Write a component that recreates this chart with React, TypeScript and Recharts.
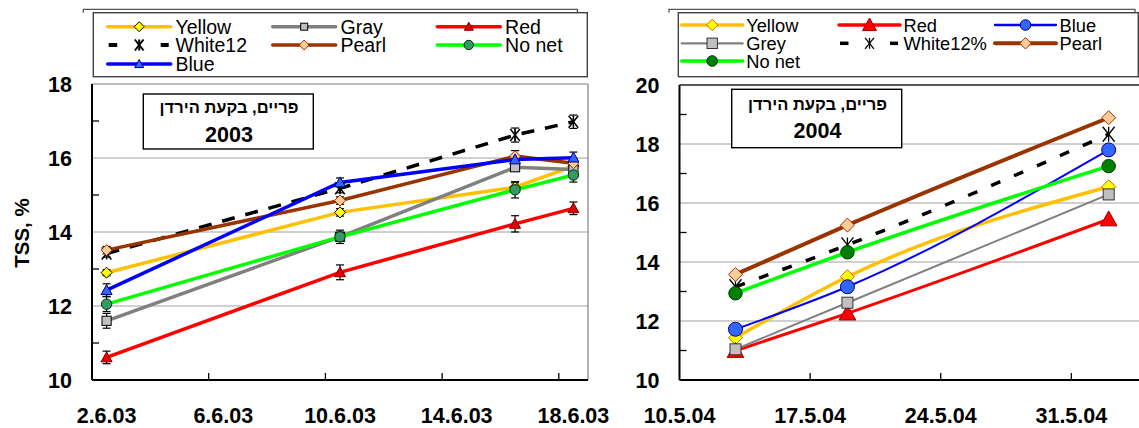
import React from 'react';
import { LineChart, Line, XAxis, YAxis, CartesianGrid, ReferenceLine, ErrorBar } from 'recharts';

const FONT = '"Liberation Sans", Arial, Helvetica, sans-serif';

// ---------------- 2003 (left panel) ----------------
const days2003 = [0, 8, 14, 16]; // days after 2.6.03
const xLabels2003 = ['2.6.03', '6.6.03', '10.6.03', '14.6.03', '18.6.03'];
const xLabelDays2003 = [0, 4, 8, 12, 16];
const yTicks2003 = [10, 11, 12, 13, 14, 15, 16, 17, 18];
const grid2003 = [12, 14, 16];

const yellow2003 = [12.9, 14.53, 15.21, 15.78];
const gray2003 = [11.6, 13.87, 15.75, 15.69];
const red2003 = [10.61, 12.91, 14.22, 14.64];
const white2003 = [13.42, 15.18, 16.62, 16.98];
const pearl2003 = [13.51, 14.85, 16.05, 15.86];
const nonet2003 = [12.05, 13.87, 15.14, 15.54];
const blue2003 = [12.43, 15.34, 15.96, 16.01];

const yellowErr2003 = [0.08, 0.1, 0.12, 0.1];
const grayErr2003 = [0.2, 0.12, 0.1, 0.08];
const redErr2003 = [0.17, 0.2, 0.22, 0.17];
const whiteErr2003 = [0.1, 0.12, 0.19, 0.18];
const pearlErr2003 = [0.1, 0.1, 0.15, 0.12];
const nonetErr2003 = [0.2, 0.18, 0.22, 0.19];
const blueErr2003 = [0.17, 0.12, 0.12, 0.15];

// ---------------- 2004 (right panel) ----------------
const days2004 = [3, 9, 23]; // days after 10.5.04
const xLabels2004 = ['10.5.04', '17.5.04', '24.5.04', '31.5.04'];
const xLabelDays2004 = [0, 7, 14, 21];
const yTicks2004 = [10, 11, 12, 13, 14, 15, 16, 17, 18, 19, 20];
const grid2004 = [12, 14, 16, 18];

const yellow2004 = [11.43, 13.5, 16.55];
const red2004 = [10.99, 12.26, 15.45];
const blue2004 = [11.72, 13.16, 17.8];
const grey2004 = [11.04, 12.62, 16.29];
const white2004 = [13.16, 14.58, 18.33];
const pearl2004 = [13.58, 15.25, 18.89];
const nonet2004 = [12.94, 14.33, 17.25];

const data2003 = days2003.map((d, i) => ({
  day: d,
  yellow: yellow2003[i], yellowErr: yellowErr2003[i],
  gray: gray2003[i], grayErr: grayErr2003[i],
  red: red2003[i], redErr: redErr2003[i],
  white: white2003[i], whiteErr: whiteErr2003[i],
  pearl: pearl2003[i], pearlErr: pearlErr2003[i],
  nonet: nonet2003[i], nonetErr: nonetErr2003[i],
  blue: blue2003[i], blueErr: blueErr2003[i],
}));

const data2004 = days2004.map((d, i) => ({
  day: d,
  yellow: yellow2004[i],
  red: red2004[i],
  blue: blue2004[i],
  grey: grey2004[i],
  white: white2004[i],
  pearl: pearl2004[i],
  nonet: nonet2004[i],
}));

type MarkerSpec = { kind: string; r: number; fill?: string; stroke: string; sw?: number };
type SeriesSpec = { key: string; name: string; stroke: string; width: number; dash?: string; marker: MarkerSpec; legendMarker: MarkerSpec; legendWidth: number };

const series2003: SeriesSpec[] = [
  { key: 'yellow', name: 'Yellow', stroke: '#FFC000', width: 3.5, marker: { kind: 'diamond', r: 5.5, fill: '#FFFF00', stroke: '#000' }, legendMarker: { kind: 'diamond', r: 5, fill: '#FFFF00', stroke: '#000' }, legendWidth: 3.5 },
  { key: 'gray', name: 'Gray', stroke: '#808080', width: 3.5, marker: { kind: 'square', r: 4.6, fill: '#C0C0C0', stroke: '#000' }, legendMarker: { kind: 'square', r: 3.5, fill: '#C0C0C0', stroke: '#000' }, legendWidth: 3.5 },
  { key: 'red', name: 'Red', stroke: '#FF0000', width: 3.5, marker: { kind: 'triangle', r: 5.5, fill: '#E00000', stroke: '#800000' }, legendMarker: { kind: 'triangle', r: 4.5, fill: '#E00000', stroke: '#800000' }, legendWidth: 3.5 },
  { key: 'white', name: 'White12', stroke: '#000000', width: 3.5, dash: '13 11', marker: { kind: 'star', r: 6, stroke: '#000', sw: 1.5 }, legendMarker: { kind: 'star', r: 5.5, stroke: '#000', sw: 2 }, legendWidth: 4 },
  { key: 'pearl', name: 'Pearl', stroke: '#993300', width: 3.5, marker: { kind: 'diamond', r: 5.5, fill: '#FFCC99', stroke: '#993300' }, legendMarker: { kind: 'diamond', r: 5, fill: '#FFCC99', stroke: '#993300' }, legendWidth: 3.5 },
  { key: 'nonet', name: 'No net', stroke: '#00FF00', width: 3.5, marker: { kind: 'circle', r: 5.2, fill: '#339966', stroke: '#003300' }, legendMarker: { kind: 'circle', r: 4.7, fill: '#339966', stroke: '#003300' }, legendWidth: 3.5 },
  { key: 'blue', name: 'Blue', stroke: '#0000FF', width: 3.5, marker: { kind: 'triangle', r: 5.5, fill: '#3366FF', stroke: '#000080' }, legendMarker: { kind: 'triangle', r: 4.5, fill: '#3366FF', stroke: '#000080' }, legendWidth: 3.5 },
];

const series2004: SeriesSpec[] = [
  { key: 'yellow', name: 'Yellow', stroke: '#FFC000', width: 3.5, marker: { kind: 'diamond', r: 7, fill: '#FFFF00', stroke: '#CC6600' }, legendMarker: { kind: 'diamond', r: 5.7, fill: '#FFFF00', stroke: '#CC6600' }, legendWidth: 3.5 },
  { key: 'red', name: 'Red', stroke: '#FF0000', width: 3, marker: { kind: 'triangle', r: 8.3, fill: '#FF0000', stroke: '#990000' }, legendMarker: { kind: 'triangle', r: 7, fill: '#FF0000', stroke: '#990000' }, legendWidth: 3.5 },
  { key: 'blue', name: 'Blue', stroke: '#0000FF', width: 2, marker: { kind: 'circle', r: 7, fill: '#3366FF', stroke: '#000080' }, legendMarker: { kind: 'circle', r: 5.3, fill: '#3366FF', stroke: '#000080' }, legendWidth: 2.3 },
  { key: 'grey', name: 'Grey', stroke: '#808080', width: 2, marker: { kind: 'square', r: 5.5, fill: '#C0C0C0', stroke: '#333' }, legendMarker: { kind: 'square', r: 5.2, fill: '#C0C0C0', stroke: '#333' }, legendWidth: 2.3 },
  { key: 'white', name: 'White12%', stroke: '#000000', width: 3.5, dash: '10 15', marker: { kind: 'star', r: 7.5, stroke: '#000', sw: 1.3 }, legendMarker: { kind: 'star', r: 5.5, stroke: '#000', sw: 1.3 }, legendWidth: 3.5 },
  { key: 'pearl', name: 'Pearl', stroke: '#993300', width: 4, marker: { kind: 'diamond', r: 7, fill: '#FFCC99', stroke: '#993300' }, legendMarker: { kind: 'diamond', r: 5.7, fill: '#FFCC99', stroke: '#993300' }, legendWidth: 4 },
  { key: 'nonet', name: 'No net', stroke: '#00FF00', width: 3.5, marker: { kind: 'circle', r: 6.7, fill: '#008000', stroke: '#003300' }, legendMarker: { kind: 'circle', r: 5.3, fill: '#008000', stroke: '#003300' }, legendWidth: 3.5 },
];

function Marker({ kind, cx, cy, r, fill, stroke, sw = 1 }: any) {
  switch (kind) {
    case 'diamond':
      return <polygon points={`${cx},${cy - r} ${cx + r},${cy} ${cx},${cy + r} ${cx - r},${cy}`} fill={fill} stroke={stroke} strokeWidth={sw} />;
    case 'square':
      return <rect x={cx - r} y={cy - r} width={2 * r} height={2 * r} fill={fill} stroke={stroke} strokeWidth={sw} />;
    case 'triangle':
      return <polygon points={`${cx},${cy - r} ${cx + r},${cy + r * 0.8} ${cx - r},${cy + r * 0.8}`} fill={fill} stroke={stroke} strokeWidth={sw} />;
    case 'circle':
      return <circle cx={cx} cy={cy} r={r} fill={fill} stroke={stroke} strokeWidth={sw} />;
    case 'star':
      return (
        <g stroke={stroke} strokeWidth={sw} fill="none">
          <line x1={cx - r * 0.8} y1={cy - r} x2={cx + r * 0.8} y2={cy + r} />
          <line x1={cx - r * 0.8} y1={cy + r} x2={cx + r * 0.8} y2={cy - r} />
          <line x1={cx} y1={cy - r} x2={cx} y2={cy + r} />
        </g>
      );
    default:
      return null;
  }
}

const dotFn = (m: MarkerSpec) => (p: any) => {
  if (p.cx == null || p.cy == null || p.value == null) return <g key={'e' + p.index} />;
  return (
    <g key={'d' + p.index}>
      <Marker kind={m.kind} cx={p.cx} cy={p.cy} r={m.r} fill={m.fill} stroke={m.stroke} sw={m.sw ?? 1} />
    </g>
  );
};

const makeXTick = (labelDays: number[], labels: string[], markDays: number[]) => (p: any) => {
  const v = p.payload.value;
  const li = labelDays.indexOf(v);
  const isMark = markDays.indexOf(v) >= 0;
  return (
    <g>
      {isMark && <line x1={p.x} y1={p.y} x2={p.x} y2={p.y - 7} stroke="#000" strokeWidth={1.3} />}
      {li >= 0 && (
        <text x={p.x} y={p.y + 42.5} textAnchor="middle" fontFamily={FONT} fontWeight="bold" fontSize={21.5} fill="#000">
          {labels[li]}
        </text>
      )}
    </g>
  );
};

const yTick = (p: any) => {
  const v = p.payload.value;
  if (v % 2 === 0) {
    return (
      <text x={p.x - 20} y={p.y + 7.7} textAnchor="end" fontFamily={FONT} fontWeight="bold" fontSize={21.5} fill="#000">
        {v}
      </text>
    );
  }
  return <line x1={p.x} y1={p.y} x2={p.x + 7} y2={p.y} stroke="#000" strokeWidth={1.3} />;
};

const marks2003 = xLabelDays2003.slice(1).map((d) => d - 0.5);
const xTicks2003 = [...xLabelDays2003, ...marks2003].sort((a, b) => a - b);
const marks2004 = xLabelDays2004.slice(1);

function LegendBlock({ series, colX, rowY, lineLen, textOff, fontSize }: any) {
  return (
    <g>
      {series.map((s: SeriesSpec, i: number) => {
        const x0 = colX[i % 3];
        const y = rowY[Math.floor(i / 3)];
        const cx = x0 + lineLen / 2;
        return (
          <g key={s.key}>
            {s.dash ? (
              <g stroke={s.stroke} strokeWidth={s.legendWidth}>
                <line x1={x0 + 1} y1={y} x2={x0 + 9.5} y2={y} />
                <line x1={x0 + lineLen - 10} y1={y} x2={x0 + lineLen - 2} y2={y} />
              </g>
            ) : (
              <line x1={x0} y1={y} x2={x0 + lineLen} y2={y} stroke={s.stroke} strokeWidth={s.legendWidth} strokeLinecap="round" />
            )}
            <Marker kind={s.legendMarker.kind} cx={cx} cy={y} r={s.legendMarker.r} fill={s.legendMarker.fill} stroke={s.legendMarker.stroke} sw={s.legendMarker.sw ?? 1} />
            <text x={x0 + textOff} y={y + 7} fontFamily={FONT} fontSize={fontSize} fill="#000">{s.name}</text>
          </g>
        );
      })}
    </g>
  );
}

export default function App() {
  return (
    <div style={{ position: 'absolute', left: 0, top: 0, width: 1139, height: 428, overflow: 'hidden', background: '#fff', fontFamily: FONT }}>
      <div style={{ position: 'absolute', left: 0, top: 0 }}>
        <LineChart width={625} height={428} data={data2003} margin={{ top: 84, right: 37, bottom: 0, left: 0 }}>
          <CartesianGrid vertical={false} horizontalValues={grid2003} stroke="#A0A0A0" strokeWidth={1} />
          <ReferenceLine y={18} stroke="#808080" strokeWidth={1.2} />
          <ReferenceLine x={16.5} stroke="#808080" strokeWidth={1.2} />
          <XAxis dataKey="day" type="number" domain={[-0.5, 16.5]} ticks={xTicks2003} interval={0} allowDataOverflow
            height={48} tickSize={0} tickMargin={0} tickLine={false} axisLine={{ stroke: '#000', strokeWidth: 2 }}
            tick={makeXTick(xLabelDays2003, xLabels2003, marks2003)} />
          <YAxis type="number" domain={[10, 18]} ticks={yTicks2003} interval={0} allowDataOverflow width={92}
            tickSize={0} tickMargin={0} tickLine={false} axisLine={{ stroke: '#000', strokeWidth: 2 }} tick={yTick} />
          {series2003.map((s) => (
            <Line key={s.key} dataKey={s.key} type="linear" stroke={s.stroke} strokeWidth={s.width} strokeDasharray={s.dash}
              dot={dotFn(s.marker)} activeDot={false} isAnimationActive={false}>
              <ErrorBar dataKey={s.key + 'Err'} width={4} stroke="#000" strokeWidth={1.2} direction="y" isAnimationActive={false} />
            </Line>
          ))}
        </LineChart>
      </div>
      <div style={{ position: 'absolute', left: 600, top: 0 }}>
        <LineChart width={560} height={428} data={data2004} margin={{ top: 85, right: 14, bottom: 0, left: 0 }}>
          <CartesianGrid vertical={false} horizontalValues={grid2004} stroke="#A0A0A0" strokeWidth={1} />
          <ReferenceLine y={20} stroke="#222" strokeWidth={1.3} />
          <XAxis dataKey="day" type="number" domain={[0, 25]} ticks={xLabelDays2004} interval={0} allowDataOverflow
            height={48} tickSize={0} tickMargin={0} tickLine={false} axisLine={{ stroke: '#000', strokeWidth: 2 }}
            tick={makeXTick(xLabelDays2004, xLabels2004, marks2004)} />
          <YAxis type="number" domain={[10, 20]} ticks={yTicks2004} interval={0} allowDataOverflow width={79.5}
            tickSize={0} tickMargin={0} tickLine={false} axisLine={{ stroke: '#000', strokeWidth: 2 }} tick={yTick} />
          {series2004.map((s) => (
            <Line key={s.key} dataKey={s.key} type="monotone" stroke={s.stroke} strokeWidth={s.width} strokeDasharray={s.dash}
              dot={dotFn(s.marker)} activeDot={false} isAnimationActive={false} />
          ))}
        </LineChart>
      </div>
      <svg width={1139} height={428} style={{ position: 'absolute', left: 0, top: 0, pointerEvents: 'none' }}>
        {/* chart-area frames peeking out above legends */}
        <path d="M83.3 12.7 V9.3 H577.3 V12.7" fill="none" stroke="#555" strokeWidth={1.3} />
        <path d="M669 12.7 V9.3 H1135 V12.7" fill="none" stroke="#555" strokeWidth={1.3} />
        {/* legends */}
        <rect x={93.3} y={12.7} width={494} height={64} fill="#fff" stroke="#404040" strokeWidth={1.4} />
        <LegendBlock series={series2003} colX={[107.7, 272.7, 437.3]} rowY={[26.7, 45, 64]} lineLen={63} textOff={67.8} fontSize={19.5} />
        <rect x={678.3} y={12.7} width={460} height={64} fill="#fff" stroke="#404040" strokeWidth={1.4} />
        <LegendBlock series={series2004} colX={[681.7, 839, 995]} rowY={[25, 43.3, 61]} lineLen={61} textOff={64.5} fontSize={18.3} />
        {/* title boxes */}
        <rect x={143.3} y={94} width={170} height={55} fill="#fff" stroke="#000" strokeWidth={1.4} />
        <text x={229} y={113} textAnchor="middle" direction="rtl" fontFamily={FONT} fontWeight="bold" fontSize={16.5} fill="#000">פריים, בקעת הירדן</text>
        <text x={229} y={142.3} textAnchor="middle" fontFamily={FONT} fontWeight="bold" fontSize={21.5} fill="#000">2003</text>
        <rect x={731.7} y={89.3} width={170} height={58.4} fill="#fff" stroke="#000" strokeWidth={1.4} />
        <text x={817.5} y={110} textAnchor="middle" direction="rtl" fontFamily={FONT} fontWeight="bold" fontSize={16.5} fill="#000">פריים, בקעת הירדן</text>
        <text x={817.5} y={137.7} textAnchor="middle" fontFamily={FONT} fontWeight="bold" fontSize={21.5} fill="#000">2004</text>
        {/* y-axis title */}
        <text x={0} y={0} transform="translate(29,233) rotate(-90)" textAnchor="middle" fontFamily={FONT} fontWeight="bold" fontSize={20.5} fill="#000">TSS, %</text>
      </svg>
    </div>
  );
}
